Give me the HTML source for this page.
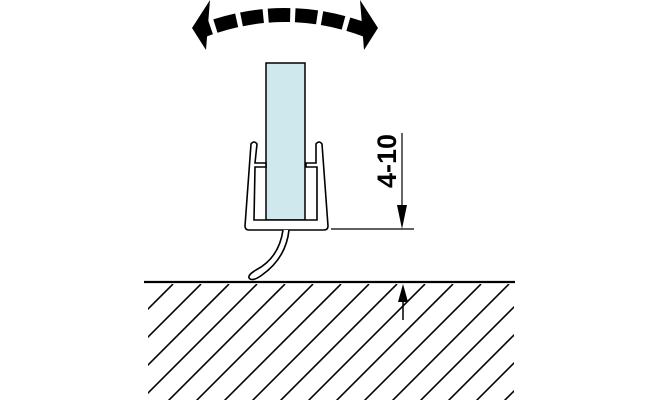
<!DOCTYPE html><html><head><style>body{margin:0;background:#fff}svg{display:block}</style></head><body>
<svg width="659" height="400" viewBox="0 0 659 400" xmlns="http://www.w3.org/2000/svg">
<defs><clipPath id="c"><rect x="148" y="284" width="366" height="116"/></clipPath></defs>
<g clip-path="url(#c)" stroke="#000" stroke-width="1.6">
<line x1="173" y1="284" x2="53" y2="404"/><line x1="201" y1="284" x2="81" y2="404"/><line x1="229" y1="284" x2="109" y2="404"/><line x1="257" y1="284" x2="137" y2="404"/><line x1="285" y1="284" x2="165" y2="404"/><line x1="313" y1="284" x2="193" y2="404"/><line x1="341" y1="284" x2="221" y2="404"/><line x1="369" y1="284" x2="249" y2="404"/><line x1="397" y1="284" x2="277" y2="404"/><line x1="425" y1="284" x2="305" y2="404"/><line x1="453" y1="284" x2="333" y2="404"/><line x1="481" y1="284" x2="361" y2="404"/><line x1="509" y1="284" x2="389" y2="404"/><line x1="537" y1="284" x2="417" y2="404"/><line x1="565" y1="284" x2="445" y2="404"/><line x1="593" y1="284" x2="473" y2="404"/><line x1="621" y1="284" x2="501" y2="404"/>
</g>
<line x1="144" y1="282" x2="515" y2="282" stroke="#000" stroke-width="2.2"/>
<line x1="403" y1="295" x2="403" y2="320" stroke="#000" stroke-width="1.5"/>
<polygon points="403,284 398,302 408,302" fill="#000"/>
<rect x="266" y="63" width="39" height="157" fill="#cfe8ee" stroke="#000" stroke-width="1.5"/>
<path d="M245,226 L251,144 Q254,140 257,144 L255,163 L266,163 L266,167 L255,167 L254,220 L317,220 L317,167 L306,167 L306,163 L316,163 L316,144 Q319,140 322,144 L328,226 Q328,230 324,230 L249,230 Q245,230 245,226 Z" fill="#fff" stroke="#000" stroke-width="1.6"/>
<path d="M283,230 Q279,258 256,270 Q246,276 250,279 Q254,281 262,275 Q286,258 289,230" fill="#fff" stroke="#000" stroke-width="1.6"/>
<line x1="331" y1="229" x2="414" y2="229" stroke="#000" stroke-width="1.2"/>
<line x1="402" y1="133" x2="402" y2="215" stroke="#000" stroke-width="1.2"/>
<polygon points="402,229 397,205 407,205" fill="#000"/>
<text transform="translate(396,161) rotate(-90)" text-anchor="middle" font-family="Liberation Sans, sans-serif" font-weight="bold" font-size="27">4-10</text>
<path d="M204,30 Q285,0 366,30" fill="none" stroke="#000" stroke-width="14" stroke-dasharray="22,5" stroke-dashoffset="-12"/>
<polygon points="192,28 210,0 206,50" fill="#000"/>
<polygon points="378,28 360,0 364,50" fill="#000"/>
</svg></body></html>
